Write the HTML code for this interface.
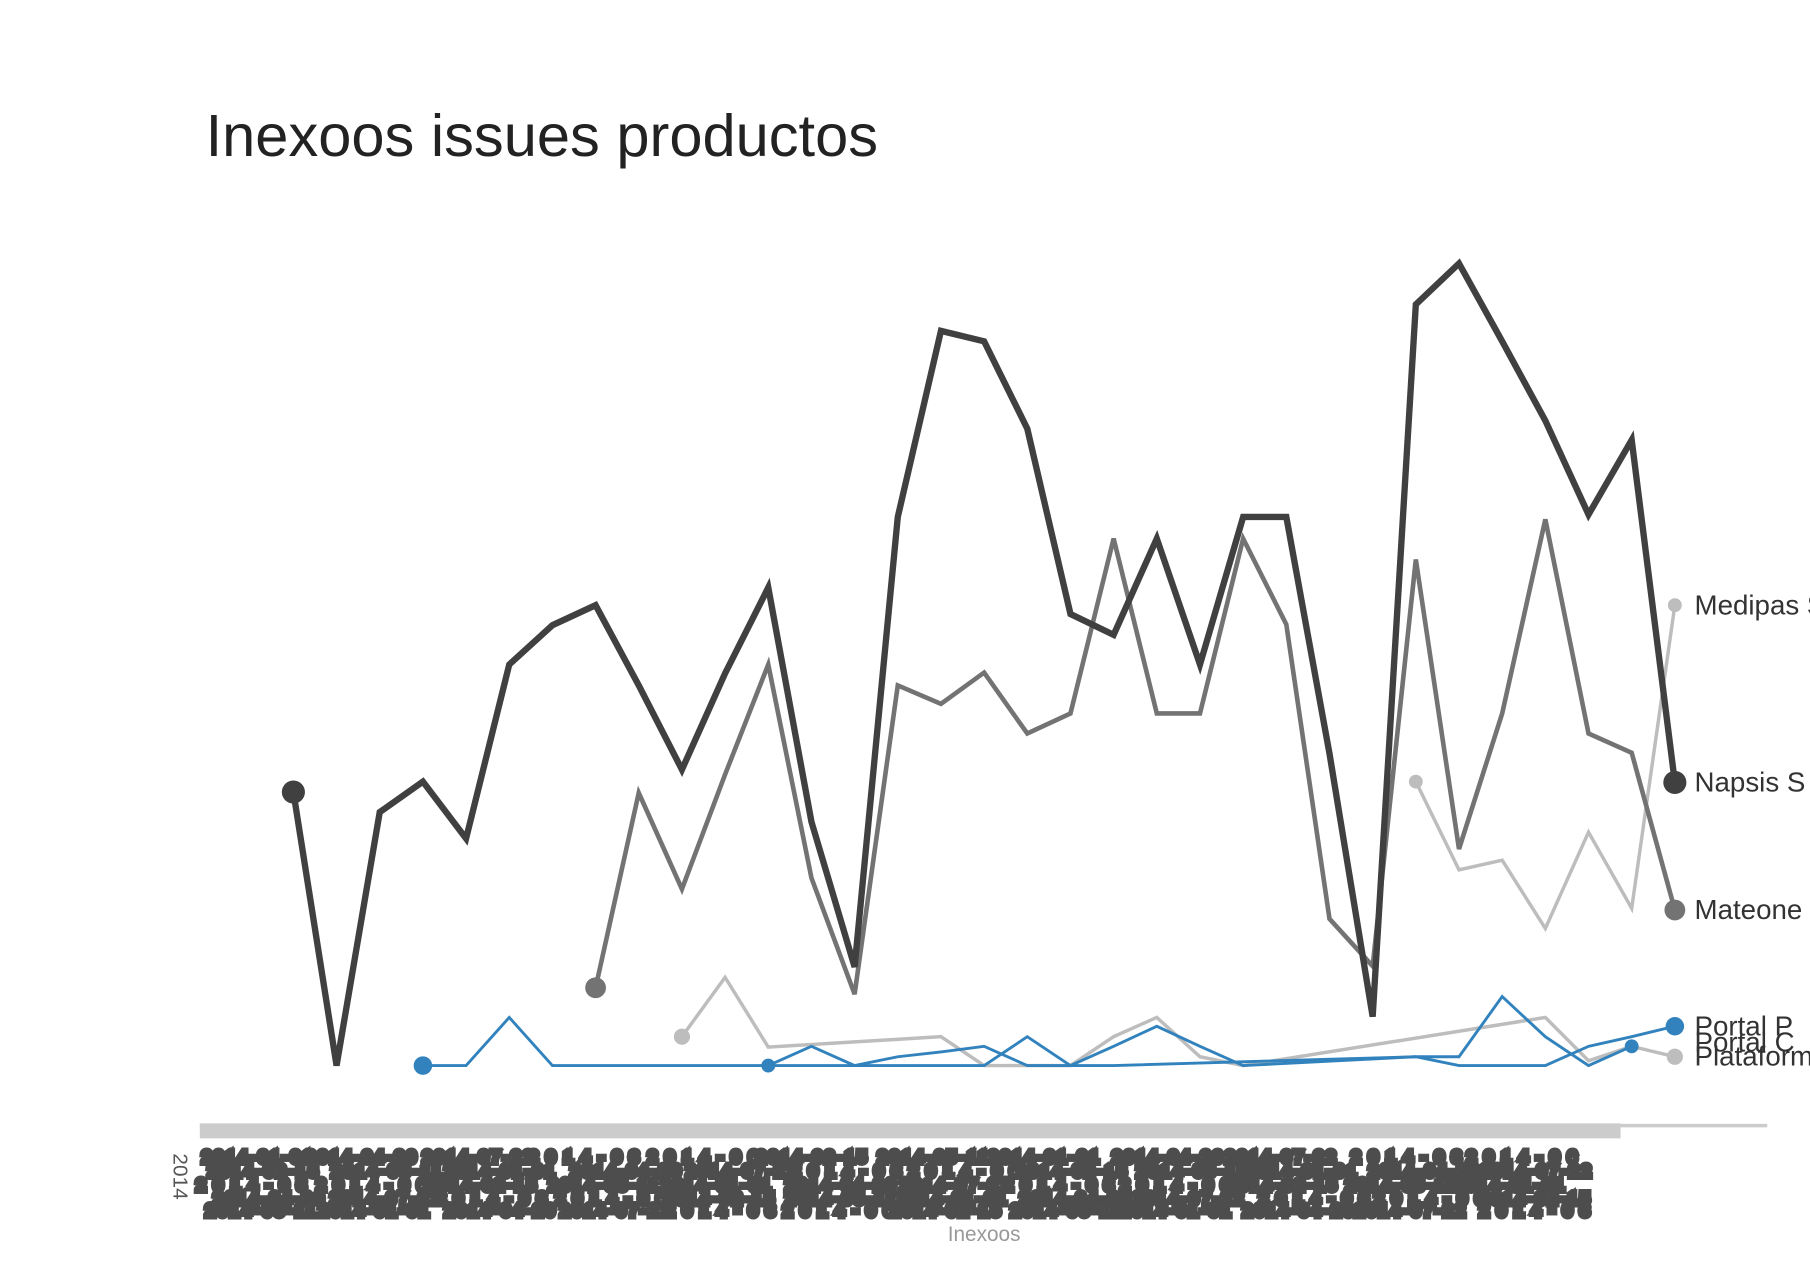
<!DOCTYPE html>
<html><head><meta charset="utf-8"><style>
html,body{margin:0;padding:0;background:#fff;}
svg{display:block;font-family:"Liberation Sans",sans-serif;}
</style></head><body>
<svg id="chart" width="1810" height="1284" viewBox="0 0 1567 1111" preserveAspectRatio="none">
<text x="178" y="135" font-size="51.6" fill="#222">Inexoos issues productos</text>
<line x1="173" y1="974" x2="1530" y2="974" stroke="#ccc" stroke-width="3"/>
<rect x="173" y="972" width="1230" height="13" fill="#ccc"/>
<text transform="translate(150,998) rotate(90)" font-size="18" fill="#555">2014</text>
<g id="ticks"></g>
<text x="852" y="1074" font-size="18" fill="#999" text-anchor="middle">Inexoos</text>
<g id="series"></g>
</svg>
<script>
const napsis=[34.1,0,31.6,35.4,28.3,50,54.9,57.4,47.4,36.9,48.9,59.6,30.4,12.3,68.4,91.6,90.3,79.4,56.3,53.7,65.7,50,68.4,68.4,38.9,6.1,94.9,100,90.3,80.4,68.7,78,35.3];
const mateone=[null,null,null,null,null,null,null,9.7,34,22,36.3,50,23.4,8.9,47.4,45.1,49,41.4,43.9,65.7,43.9,43.9,65.7,55,18.3,12.4,63.1,27,43.9,68.1,41.4,39,19.4];
const medipas=[null,null,null,null,null,null,null,null,null,null,null,null,null,null,null,null,null,null,null,null,null,null,null,null,null,null,35.4,24.4,25.6,17.1,29.1,19.6,57.4];
const plataform=[null,null,null,null,null,null,null,null,null,3.6,11,2.3,null,null,null,3.6,0,0,0,3.6,6,1.1,0,null,null,null,null,null,null,6,0.6,2.4,1.1];
const portalP=[null,null,null,0,0,6,0,0,0,0,0,0,2.4,0,1.1,1.7,2.4,0,0,2.4,4.9,2.4,0,null,null,null,1.1,0,0,0,2.4,3.6,4.9];
const portalC=[null,null,null,null,null,null,null,null,null,null,null,0,0,0,0,0,0,3.6,0,0,null,null,null,null,null,null,1.1,1.1,8.6,3.6,0,2.4,null];
const labels=["Medipas S","Napsis S","Mateone","Portal P","Portal C","Plataform"];
const X=i=>254+i*37.375, Y=v=>922-v*6.94;
const NS="http://www.w3.org/2000/svg";
const g=document.getElementById('series');
function draw(data,color,w,r,label,ly,name){
  const pts=[];data.forEach((v,i)=>{if(v!=null)pts.push([X(i),Y(v)]);});
  const p=document.createElementNS(NS,'polyline');
  p.setAttribute('points',pts.map(q=>q.join(',')).join(' '));
  p.setAttribute('fill','none');p.setAttribute('stroke',color);p.setAttribute('stroke-width',w);p.setAttribute('stroke-linejoin','miter');
  
  
  g.appendChild(p);
  [pts[0],pts[pts.length-1]].forEach((q,k)=>{
    const c=document.createElementNS(NS,'circle');
    c.setAttribute('cx',q[0]);c.setAttribute('cy',q[1]);c.setAttribute('r',r);c.setAttribute('fill',color);
    
    
    g.appendChild(c);
  });
  if(label){
    const t=document.createElementNS(NS,'text');
    t.setAttribute('x',1467);t.setAttribute('y',(ly==null?pts[pts.length-1][1]:ly)+8);t.setAttribute('font-size',24);t.setAttribute('fill','#333');
    t.textContent=label;
    
    
    g.appendChild(t);
  }
}
draw(plataform,'#bdbdbd',3,7,labels[5],914,'plataform');
draw(medipas,'#bdbdbd',3,6,labels[0],null,'medipas');
draw(mateone,'#737373',4,9,labels[2],null,'mateone');
draw(portalC,'#3182bd',2.5,6,labels[4],902,'portal-c');
draw(portalP,'#3182bd',2.5,8,labels[3],null,'portal-p');
draw(napsis,'#404040',5.5,10,labels[1],null,'napsis');
const tg=document.getElementById('ticks');
const tickText=["2014-01-01","2014-02-15","2014-03","2014-04-20","2014-05-11","2014-06","2014-07-22"];
const rowsY=[1006,1018,1030,1042,1052];
const rowsX0=[175,180,170,185,178];
const rowsX1=[1400,1395,1400,1405,1378];
rowsY.forEach((y,r)=>{
  let x=rowsX0[r], k=r;
  while(x<rowsX1[r]-40){
    const t=document.createElementNS(NS,'text');
    t.setAttribute('x',x);t.setAttribute('y',y);
    t.setAttribute('font-size',14);t.setAttribute('fill','#4d4d4d');t.setAttribute('stroke','#4d4d4d');t.setAttribute('stroke-width',6);
    t.setAttribute('textLength',Math.min(95,rowsX1[r]-x));
    t.textContent=tickText[k%tickText.length];
    
    
    tg.appendChild(t);
    x+=100+((k*37)%20)-10; k+=3;
  }
});
</script>
</body></html>
